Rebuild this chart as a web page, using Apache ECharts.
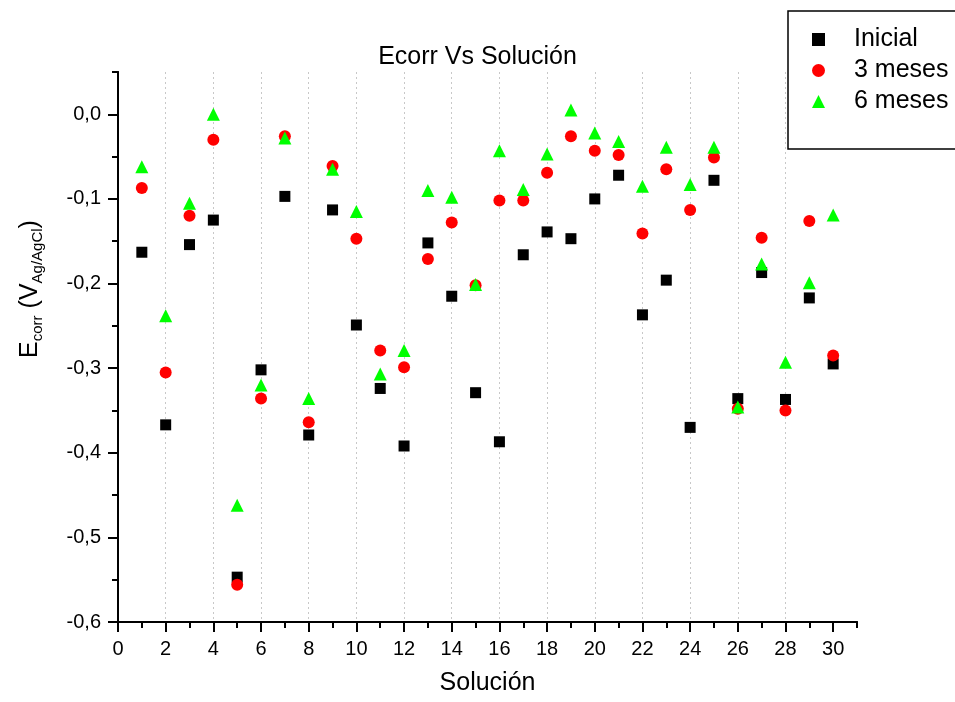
<!DOCTYPE html>
<html>
<head>
<meta charset="utf-8">
<script src="https://cdn.jsdelivr.net/npm/echarts@6/dist/echarts.min.js"></script>
<style>html,body{margin:0;padding:0;background:#fff}#c{width:955px;height:702px}</style>
</head>
<body>
<div id="c"></div>
<script>
const solucion = [1,2,3,4,5,6,7,8,9,10,11,12,13,14,15,16,17,18,19,20,21,22,23,24,25,26,27,28,29,30];
const inicial = [-0.163,-0.367,-0.154,-0.125,-0.547,-0.302,-0.097,-0.379,-0.113,-0.249,-0.324,-0.392,-0.152,-0.215,-0.329,-0.387,-0.166,-0.139,-0.147,-0.100,-0.072,-0.237,-0.196,-0.370,-0.078,-0.336,-0.187,-0.337,-0.217,-0.295];
const meses3 = [-0.087,-0.305,-0.120,-0.030,-0.556,-0.336,-0.026,-0.364,-0.061,-0.147,-0.279,-0.299,-0.171,-0.128,-0.202,-0.102,-0.102,-0.069,-0.026,-0.043,-0.048,-0.141,-0.065,-0.113,-0.051,-0.348,-0.146,-0.350,-0.126,-0.285];
const meses6 = [-0.062,-0.238,-0.105,0.000,-0.462,-0.320,-0.028,-0.336,-0.065,-0.115,-0.307,-0.279,-0.090,-0.098,-0.201,-0.043,-0.089,-0.047,0.005,-0.022,-0.032,-0.085,-0.039,-0.083,-0.039,-0.346,-0.177,-0.293,-0.199,-0.119];
const xMajorTicks = [0,2,4,6,8,10,12,14,16,18,20,22,24,26,28,30];
const xMinorTicks = [1,3,5,7,9,11,13,15,17,19,21,23,25,27,29,31];
const yMajorTicks = [-0.6,-0.5,-0.4,-0.3,-0.2,-0.1,0];
const yMinorTicks = [-0.55,-0.45,-0.35,-0.25,-0.15,-0.05,0.05];
const seriesNames = ['Inicial','3 meses','6 meses'];

const FONT = "'Liberation Sans', Arial, sans-serif";
const chart = echarts.init(document.getElementById('c'), null, {renderer:'canvas'});
const pairs = arr => solucion.map((x,i) => [x, arr[i]]);
const axisLine = {show:true, onZero:false, lineStyle:{color:'#000', width:2}};

chart.setOption({
  animation:false,
  backgroundColor:'#fff',
  title:{text:'Ecorr Vs Solución', left:'center', top:40,
    textStyle:{fontFamily:FONT, fontSize:25, fontWeight:'normal', color:'#000'}},
  legend:{
    orient:'vertical', left:788, top:11,
    data:seriesNames,
    itemWidth:13, itemHeight:13, itemGap:6,
    padding:[16,20,35,24],
    borderColor:'#000', borderWidth:1.5, backgroundColor:'#fff',
    textStyle:{fontFamily:FONT, fontSize:25, lineHeight:25, color:'#000', padding:[0,0,0,24]}
  },
  grid:{left:118, right:98, top:72, bottom:80},
  xAxis:[{
    type:'value', min:0, max:31, interval:1,
    name:'Solución', nameLocation:'middle', nameGap:49,
    nameTextStyle:{fontFamily:FONT, fontSize:25, color:'#000'},
    axisLine:axisLine,
    axisTick:{show:true, customValues:xMajorTicks, length:10, lineStyle:{color:'#000', width:2}},
    axisLabel:{customValues:xMajorTicks, fontFamily:FONT, fontSize:20, color:'#000', margin:17},
    splitLine:{show:true, showMinLine:false, showMaxLine:false, lineStyle:{color:'#c8c8c8', type:[2,3], width:1}}
  },{
    type:'value', min:0, max:31, interval:1, position:'bottom',
    axisLine:axisLine,
    axisTick:{show:true, customValues:xMinorTicks, length:6, lineStyle:{color:'#000', width:2}},
    axisLabel:{show:false}, splitLine:{show:false}
  }],
  yAxis:[{
    type:'value', min:-0.6, max:0.05, interval:0.1,
    axisLine:axisLine,
    axisTick:{show:true, customValues:yMajorTicks, length:10, lineStyle:{color:'#000', width:2}},
    axisLabel:{customValues:yMajorTicks, fontFamily:FONT, fontSize:20, color:'#000', margin:17,
      formatter:v => (Math.abs(v) < 1e-9 ? 0 : v).toFixed(1).replace('.', ',')},
    splitLine:{show:false}
  },{
    type:'value', min:-0.6, max:0.05, interval:0.1, position:'left',
    axisLine:axisLine,
    axisTick:{show:true, customValues:yMinorTicks, length:6, lineStyle:{color:'#000', width:2}},
    axisLabel:{show:false}, splitLine:{show:false}
  }],
  graphic:[{
    type:'text', x:30, y:289, rotation:Math.PI/2,
    style:{
      text:'{e|E}{s|corr}{e| (V}{s|Ag/AgCl}{e|)}',
      align:'center', verticalAlign:'middle',
      rich:{
        e:{fontFamily:FONT, fontSize:25, color:'#000', lineHeight:30, verticalAlign:'middle'},
        s:{fontFamily:FONT, fontSize:15, color:'#000', lineHeight:30, verticalAlign:'bottom'}
      }
    }
  }],
  series:[
    {name:seriesNames[0], type:'scatter', xAxisIndex:0, yAxisIndex:0, data:pairs(inicial),
      symbol:'rect', symbolSize:11, itemStyle:{color:'#000', opacity:1}},
    {name:seriesNames[1], type:'scatter', xAxisIndex:0, yAxisIndex:0, data:pairs(meses3),
      symbol:'circle', symbolSize:12, itemStyle:{color:'#ff0000', opacity:1}},
    {name:seriesNames[2], type:'scatter', xAxisIndex:0, yAxisIndex:0, data:pairs(meses6),
      symbol:'triangle', symbolSize:13, itemStyle:{color:'#00ff00', opacity:1}}
  ]
});
</script>
</body>
</html>
